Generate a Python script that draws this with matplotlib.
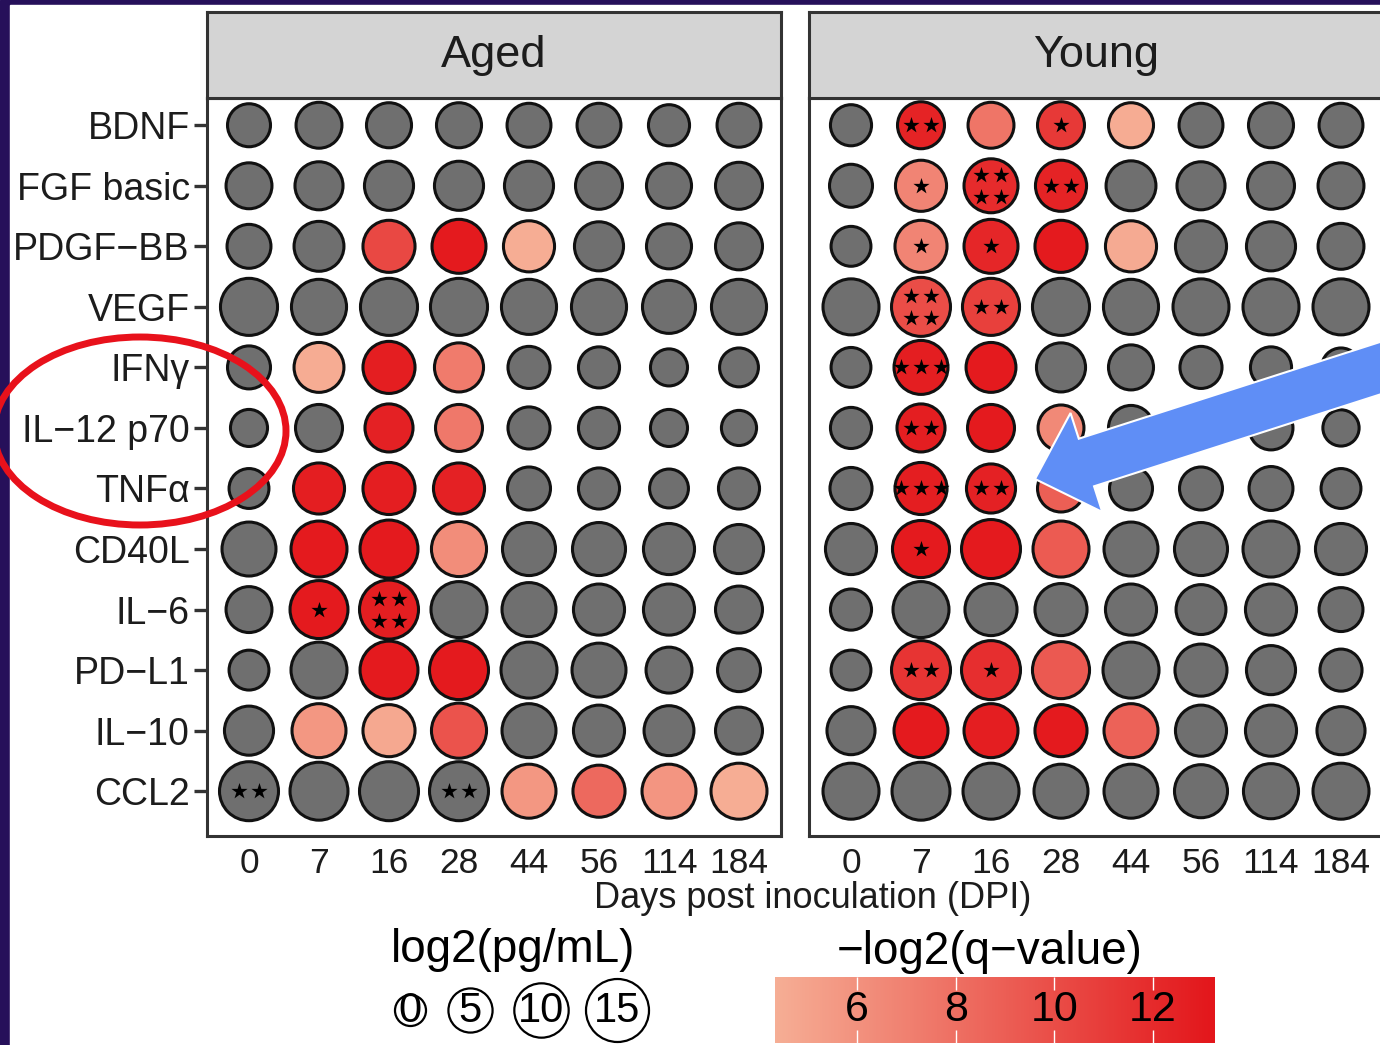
import numpy as np
import matplotlib
matplotlib.use('Agg')
import matplotlib.pyplot as plt
from matplotlib.colors import LinearSegmentedColormap, Normalize
from matplotlib.patches import Ellipse, FancyArrow, Rectangle
from matplotlib.transforms import offset_copy

plt.rcParams['font.family'] = ['Liberation Sans', 'DejaVu Sans']

cytokines = ['BDNF', 'FGF basic', 'PDGF\u2212BB', 'VEGF', 'IFN\u03b3', 'IL\u221212 p70',
             'TNF\u03b1', 'CD40L', 'IL\u22126', 'PD\u2212L1', 'IL\u221210', 'CCL2']
days = ['0', '7', '16', '28', '44', '56', '114', '184']
groups = ['Aged', 'Young']

# log2(pg/mL), one row per cytokine, one column per day
aged_conc = [
    [4.5, 5.8, 5.4, 5.4, 4.9, 4.9, 3.7, 4.9],
    [5.8, 6.8, 7.3, 7.3, 7.3, 6.3, 5.4, 6.3],
    [4.9, 7.7, 8.8, 9.8, 8.3, 7.3, 5.4, 6.3],
    [11.5, 10.4, 11.5, 11.5, 10.4, 10.4, 9.3, 10.4],
    [4.5, 7.7, 8.8, 7.3, 4.1, 3.7, 2.1, 2.8],
    [2.1, 6.3, 6.8, 6.3, 4.1, 3.7, 2.1, 1.4],
    [3.2, 8.3, 8.8, 8.3, 4.5, 3.7, 2.8, 3.7],
    [9.8, 10.9, 12.0, 10.4, 9.3, 9.3, 8.3, 7.3],
    [5.8, 12.0, 12.6, 10.9, 9.8, 8.3, 8.3, 6.3],
    [3.2, 10.9, 12.0, 12.6, 10.9, 9.8, 5.8, 4.5],
    [7.3, 9.8, 8.8, 10.4, 9.8, 8.3, 7.7, 6.3],
    [12.6, 12.0, 12.6, 12.6, 9.8, 8.8, 9.8, 10.9],
]
young_conc = [
    [3.7, 6.3, 5.8, 6.3, 5.4, 4.9, 5.4, 4.9],
    [4.5, 8.3, 9.8, 8.3, 7.7, 6.8, 6.3, 5.8],
    [3.2, 8.8, 9.8, 8.8, 8.3, 8.3, 7.3, 5.8],
    [10.9, 12.6, 11.5, 11.5, 10.4, 10.9, 10.9, 10.9],
    [3.2, 9.8, 7.7, 7.3, 5.4, 4.1, 3.7, 2.8],
    [3.7, 6.8, 6.3, 5.8, 5.4, 4.5, 4.9, 1.8],
    [4.1, 8.8, 7.3, 6.3, 4.5, 4.5, 4.9, 3.2],
    [8.3, 11.5, 12.6, 10.9, 9.8, 9.3, 10.9, 8.3],
    [3.7, 10.9, 8.8, 8.8, 8.3, 7.7, 8.3, 4.9],
    [3.2, 12.6, 12.6, 11.5, 10.9, 8.8, 7.3, 4.1],
    [6.8, 9.8, 9.8, 8.8, 9.8, 8.3, 8.3, 6.8],
    [10.9, 12.0, 10.9, 9.8, 9.8, 9.3, 10.4, 10.9],
]

n = np.nan
# -log2(q-value); nan = not significant (grey)
aged_q = [
    [n, n, n, n, n, n, n, n],
    [n, n, n, n, n, n, n, n],
    [n, n, 10.3, 13.0, 4.4, n, n, n],
    [n, n, n, n, n, n, n, n],
    [n, 4.5, 12.8, 7.3, n, n, n, n],
    [n, n, 12.6, 7.5, n, n, n, n],
    [n, 12.8, 12.8, 12.6, n, n, n, n],
    [n, 13.0, 13.0, 6.3, n, n, n, n],
    [n, 13.0, 12.8, n, n, n, n, n],
    [n, n, 13.0, 13.0, n, n, n, n],
    [n, 5.7, 4.7, 9.7, n, n, n, n],
    [n, n, n, n, 5.7, 8.4, 5.8, 4.4],
]
young_q = [
    [n, 12.5, 7.7, 11.2, 4.5, n, n, n],
    [n, 6.8, 12.0, 12.5, n, n, n, n],
    [n, 6.8, 12.3, 13.0, 4.6, n, n, n],
    [n, 10.0, 10.8, n, n, n, n, n],
    [n, 12.8, 13.0, n, n, n, n, n],
    [n, 12.8, 13.0, 6.5, n, n, n, n],
    [n, 12.8, 12.6, 9.0, n, n, n, n],
    [n, 13.0, 13.0, 9.2, n, n, n, n],
    [n, n, n, n, n, n, n, n],
    [n, 11.5, 11.8, 9.3, n, n, n, n],
    [n, 13.0, 12.8, 13.0, 8.8, n, n, n],
    [n, n, n, n, n, n, n, n],
]

# number of significance stars per cell
aged_stars = [
    [0, 0, 0, 0, 0, 0, 0, 0],
    [0, 0, 0, 0, 0, 0, 0, 0],
    [0, 0, 0, 0, 0, 0, 0, 0],
    [0, 0, 0, 0, 0, 0, 0, 0],
    [0, 0, 0, 0, 0, 0, 0, 0],
    [0, 0, 0, 0, 0, 0, 0, 0],
    [0, 0, 0, 0, 0, 0, 0, 0],
    [0, 0, 0, 0, 0, 0, 0, 0],
    [0, 1, 4, 0, 0, 0, 0, 0],
    [0, 0, 0, 0, 0, 0, 0, 0],
    [0, 0, 0, 0, 0, 0, 0, 0],
    [2, 0, 0, 2, 0, 0, 0, 0],
]
young_stars = [
    [0, 2, 0, 1, 0, 0, 0, 0],
    [0, 1, 4, 2, 0, 0, 0, 0],
    [0, 1, 1, 0, 0, 0, 0, 0],
    [0, 4, 2, 0, 0, 0, 0, 0],
    [0, 3, 0, 0, 0, 0, 0, 0],
    [0, 2, 0, 0, 0, 0, 0, 0],
    [0, 3, 2, 0, 0, 0, 0, 0],
    [0, 1, 0, 0, 0, 0, 0, 0],
    [0, 0, 0, 0, 0, 0, 0, 0],
    [0, 2, 1, 0, 0, 0, 0, 0],
    [0, 0, 0, 0, 0, 0, 0, 0],
    [0, 0, 0, 0, 0, 0, 0, 0],
]

size_breaks = [0, 5, 10, 15]
q_ticks = [6, 8, 10, 12]
Q_MIN, Q_MAX = 4.33, 13.26

W, H = 1380, 1045
fig = plt.figure(figsize=(W / 100, H / 100), dpi=100)

cmap = LinearSegmentedColormap.from_list('qred', ['#f6ae95', '#e3161b'])
norm = Normalize(Q_MIN, Q_MAX)
GREY = '#6f6f6f'
TXT = '#1c1c1c'
LINE = '#333333'

D_MIN, D_MAX, EDGE_PX = 34, 66, 3


def marker_area(v):
    d = np.sqrt(D_MIN ** 2 + (D_MAX ** 2 - D_MIN ** 2) * np.asarray(v, float) / 15.0) - EDGE_PX
    return (d * 0.72) ** 2


def frac(x0, y0, x1, y1):
    return [x0 / W, 1 - y1 / H, (x1 - x0) / W, (y1 - y0) / H]


# slide background and white card
canvas = fig.add_axes([0, 0, 1, 1], zorder=-1)
canvas.set_xlim(0, W)
canvas.set_ylim(H, 0)
canvas.axis('off')
canvas.add_patch(Rectangle((0, 0), W, H, color='#26105a'))
canvas.add_patch(Rectangle((10, 5), W - 10, H - 5, color='white'))

star_offsets = {
    1: [(0, 0)],
    2: [(-10, 0), (10, 0)],
    3: [(-20, 0), (0, 0), (20, 0)],
    4: [(-10, 11), (10, 11), (-10, -11), (10, -11)],
}

panel_left = {'Aged': 207, 'Young': 809}
PW = 574
for g, conc, q, stars in zip(groups, [aged_conc, young_conc],
                             [aged_q, young_q], [aged_stars, young_stars]):
    x0 = panel_left[g]
    ax = fig.add_axes(frac(x0, 98, x0 + PW, 836))
    conc = np.array(conc)
    q = np.array(q)
    stars = np.array(stars)
    cols, rows = np.meshgrid(np.arange(len(days)), np.arange(len(cytokines)))
    colors = [GREY if np.isnan(v) else cmap(norm(v)) for v in q.ravel()]
    ax.scatter(cols.ravel(), rows.ravel(), s=marker_area(conc.ravel()), c=colors,
               edgecolors='#111111', linewidths=2.2, zorder=3, clip_on=False)

    for k, offs in star_offsets.items():
        rr, cc = np.where(stars == k)
        if len(rr) == 0:
            continue
        for dx, dy in offs:
            tr = offset_copy(ax.transData, fig=fig, x=dx, y=dy, units='dots')
            ax.scatter(cc, rr, s=150, marker='*', color='black', linewidths=0,
                       transform=tr, zorder=4, clip_on=False)

    ax.set_xlim(-0.6, len(days) - 0.4)
    ax.set_ylim(len(cytokines) - 0.26, -0.45)
    ax.set_xticks(range(len(days)))
    ax.set_xticklabels(days, fontsize=25.5, color=TXT)
    ax.tick_params(axis='x', length=0, pad=8)
    ax.set_yticks(range(len(cytokines)))
    if g == 'Aged':
        ax.set_yticklabels(cytokines, fontsize=27, color=TXT)
        ax.tick_params(axis='y', length=9.4, width=2.4, color=LINE, pad=3)
    else:
        ax.set_yticklabels([])
        ax.tick_params(axis='y', length=0)
    for sp in ax.spines.values():
        sp.set_color(LINE)
        sp.set_linewidth(2.2)

    sax = fig.add_axes(frac(x0, 12, x0 + PW, 98))
    sax.set_facecolor('#d4d4d4')
    sax.set_xticks([])
    sax.set_yticks([])
    for sp in sax.spines.values():
        sp.set_color(LINE)
        sp.set_linewidth(2.2)
    sax.text(0.5, 0.5, g, transform=sax.transAxes, ha='center', va='center',
             fontsize=32.5, color=TXT)

fig.text(813 / W, 1 - 898 / H, 'Days post inoculation (DPI)', ha='center',
         va='center', fontsize=26, color=TXT)

# size legend
canvas.text(513, 950, 'log2(pg/mL)', ha='center', va='center', fontsize=33, color='black')
key_x = [410, 470, 541, 617]
for kx, b in zip(key_x, size_breaks):
    canvas.scatter([kx], [1010], s=marker_area([b]), facecolors='white',
                   edgecolors='black', linewidths=1.6, zorder=3)
    canvas.text(kx, 1011, str(b), ha='center', va='center', fontsize=30,
                color='black', zorder=4)

# colour bar
canvas.text(990, 952, '\u2212log2(q\u2212value)', ha='center', va='center',
            fontsize=33, color='black')
cax = fig.add_axes(frac(775, 977, 1215, 1043))
grad = np.linspace(Q_MIN, Q_MAX, 300).reshape(1, -1)
cax.imshow(grad, cmap=cmap, norm=norm, aspect='auto',
           extent=[Q_MIN, Q_MAX, 0, 1])
cax.vlines(q_ticks, 0, 0.2, color='white', lw=1)
cax.vlines(q_ticks, 0.8, 1, color='white', lw=1)
for t in q_ticks:
    cax.text(t, 0.5, str(t), ha='center', va='center', fontsize=31, color='black')
cax.set_xlim(Q_MIN, Q_MAX)
cax.set_ylim(0, 1)
cax.axis('off')

# callouts drawn on top
overlay = fig.add_axes([0, 0, 1, 1], zorder=10)
overlay.set_xlim(0, W)
overlay.set_ylim(H, 0)
overlay.axis('off')
overlay.patch.set_alpha(0)
overlay.add_patch(Ellipse((140, 431), 292, 188, fill=False, edgecolor='#e8111b', lw=5))
tip = np.array([1035, 479])
tail = np.array([1420, 355.4])
overlay.add_patch(FancyArrow(tail[0], tail[1], *(tip - tail), width=50,
                             head_width=104, head_length=54,
                             length_includes_head=True,
                             facecolor='#5f8ef6', edgecolor='white', lw=1.5))

fig.savefig('out.png', dpi=100)
